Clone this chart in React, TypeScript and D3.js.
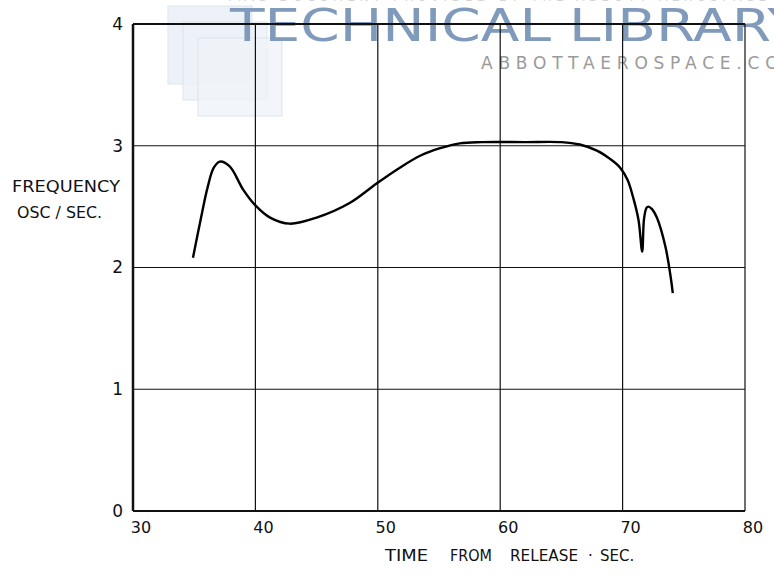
import { scaleLinear, line, curveCatmullRom } from "d3";

const width = 774;
const height = 578;
const Margin = { top: 24, right: 29, bottom: 67, left: 133 };
const innerWidth = width - Margin.left - Margin.right;
const innerHeight = height - Margin.top - Margin.bottom;

// time from release (sec) and oscillation frequency (osc/sec)
const timeSec = [
  34.9, 35.5, 36.1, 36.6, 37.1, 37.9, 39.0, 40.0, 41.2, 42.8, 45.0, 47.7, 49.9,
  51.8, 53.5, 55.1, 56.7, 58.5, 62.0, 65.0, 66.5, 67.9, 69.0, 69.8, 70.4, 70.85,
  71.3, 71.6, 71.75, 71.95, 72.1, 72.4, 72.8, 73.5, 73.9, 74.1,
];
const frequency = [
  2.08, 2.38, 2.66, 2.82, 2.87, 2.83, 2.64, 2.51, 2.41, 2.36, 2.41, 2.53, 2.69,
  2.82, 2.92, 2.98, 3.02, 3.03, 3.03, 3.03, 3.01, 2.96, 2.89, 2.82, 2.72, 2.58,
  2.39, 2.13, 2.4, 2.49, 2.5, 2.48, 2.41, 2.17, 1.94, 1.79,
];
const xTicks = [30, 40, 50, 60, 70, 80];
const yTicks = [0, 1, 2, 3, 4];

const font = "'DejaVu Sans', sans-serif";

export default function App() {
  const xScale = scaleLinear().domain([30, 80]).range([0, innerWidth]);
  const yScale = scaleLinear().domain([0, 4]).range([innerHeight, 0]);

  const points: [number, number][] = timeSec.map((t, i) => [t, frequency[i]]);
  const path = line<[number, number]>()
    .x((d) => xScale(d[0]))
    .y((d) => yScale(d[1]))
    .curve(curveCatmullRom.alpha(0.5))(points);

  return (
    <svg
      width={width}
      height={height}
      style={{ position: "absolute", left: 0, top: 0, background: "#fff" }}
    >
      {/* watermark */}
      <g>
        <rect x={168} y={6} width={84} height={78} fill="#e9f0f7" stroke="#d5dfea" opacity={0.8} />
        <rect x={183} y={22} width={84} height={78} fill="#edf2f8" stroke="#d5dfea" opacity={0.8} />
        <rect x={198} y={38} width={84} height={78} fill="#f0f4f9" stroke="#d5dfea" opacity={0.8} />
        <text x={226} y={1} fontFamily={font} fontSize={12} fill="#d4d4d4" textLength={540}>
          THIS DOCUMENT PROVIDED BY THE ABBOTT AEROSPACE
        </text>
        <text x={230} y={41} fontFamily={font} fontSize={45} fill="#7f9aba" textLength={572} lengthAdjust="spacingAndGlyphs">
          TECHNICAL LIBRARY
        </text>
        <text x={481} y={69} fontFamily={font} fontSize={17} fill="#9a9a9a" textLength={318}>
          ABBOTTAEROSPACE.COM
        </text>
      </g>

      <g transform={`translate(${Margin.left},${Margin.top})`}>
        {yTicks.map((v) => (
          <g key={"y" + v}>
            <line x1={0} x2={innerWidth} y1={yScale(v)} y2={yScale(v)} stroke="#111" strokeWidth={v === 0 || v === 4 ? 2 : 1.2} />
            <text x={-10} y={yScale(v)} dy="0.35em" textAnchor="end" fontFamily={font} fontSize={17} fill="#111">
              {v}
            </text>
          </g>
        ))}
        {xTicks.map((v) => (
          <g key={"x" + v}>
            <line x1={xScale(v)} x2={xScale(v)} y1={0} y2={innerHeight} stroke="#111" strokeWidth={v === 30 ? 2.5 : 1.2} />
            <text x={xScale(v) + 8} y={innerHeight + 22} textAnchor="middle" fontFamily={font} fontSize={16} fill="#111">
              {v}
            </text>
          </g>
        ))}
        <path d={path ?? ""} fill="none" stroke="#000" strokeWidth={2.4} strokeLinejoin="round" />
      </g>

      <text x={12} y={192} fontFamily={font} fontSize={15} fill="#111" textLength={108} lengthAdjust="spacingAndGlyphs">
        FREQUENCY
      </text>
      <text x={17} y={218} fontFamily={font} fontSize={15} fill="#111" textLength={85} lengthAdjust="spacingAndGlyphs">
        OSC / SEC.
      </text>
      <g fontFamily={font} fontSize={15} fill="#111">
        <text x={385} y={561} textLength={43} lengthAdjust="spacingAndGlyphs">TIME</text>
        <text x={450} y={561} textLength={42} lengthAdjust="spacingAndGlyphs">FROM</text>
        <text x={510} y={561} textLength={68} lengthAdjust="spacingAndGlyphs">RELEASE</text>
        <text x={588} y={561}>·</text>
        <text x={600} y={561}>SEC.</text>
      </g>
    </svg>
  );
}
